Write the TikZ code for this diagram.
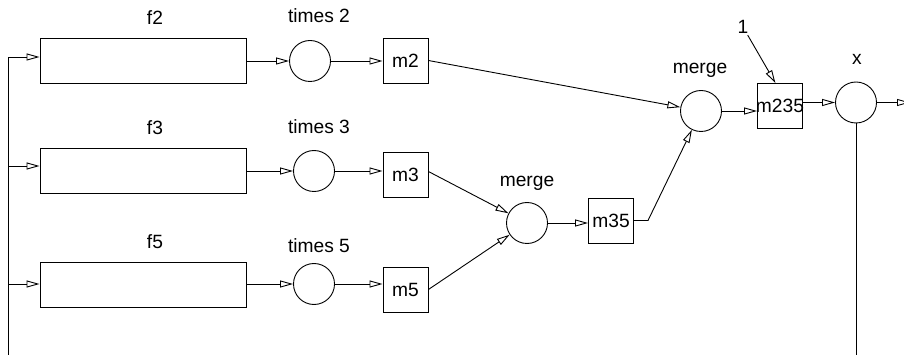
\documentclass[tikz,border=0pt]{standalone}
\usepackage{fontspec}
\setmainfont{Liberation Sans}
\usetikzlibrary{arrows.meta,calc}
\begin{document}
\begin{tikzpicture}[x=1pt,y=-1pt,line width=0.9pt,
 every node/.style={font=\fontsize{19.2}{22}\selectfont},
 blk/.style={draw,inner sep=0pt,minimum width=206pt,minimum height=45pt},
 sq/.style={draw,inner sep=0pt,minimum size=45pt},
 circ/.style={draw,circle,inner sep=0pt,minimum size=41pt},
 lbl/.style={anchor=base,inner sep=0pt},
 arr/.style={-{Triangle[open,length=13pt,width=7pt]}}]
\useasboundingbox (0,0) rectangle (904,355);
% blocks
\node[blk] (f2) at (143,60.5) {};
\node[blk] (f3) at (143,170.5) {};
\node[blk] (f5) at (143,284.5) {};
\node[lbl] (lf2) at (155,25) {f2};
\node[lbl] (lf3) at (155,135) {f3};
\node[lbl] (lf5) at (155,248) {f5};
% times circles
\node[circ] (t2) at (310,61) {};
\node[circ] (t3) at (314,171) {};
\node[circ] (t5) at (314,284) {};
\node[lbl] (lt2) at (319,23) {times 2};
\node[lbl] (lt3) at (319,134) {times 3};
\node[lbl] (lt5) at (319,252) {times 5};
% squares
\node[sq] (m2) at (405.5,60.5) {m2};
\node[sq] (m3) at (405.5,174.5) {m3};
\node[sq] (m5) at (405.5,289.5) {m5};
\node[sq] (m35) at (611,220.5) {m35};
\node[sq] (m235) at (780,106) {\makebox[0pt]{m235}};
% merges
\node[circ] (mg1) at (527,223) {};
\node[circ] (mg2) at (701,111) {};
\node[lbl] (lmg1) at (527,187) {merge};
\node[lbl] (lmg2) at (700,74) {merge};
\node[circ] (xc) at (856,102.5) {};
\node[lbl] (lx) at (857,65) {x};
\node[inner sep=1pt] (l1) at (743,27) {1};
% feedback line
\coordinate (bot) at (8,360);
\coordinate (top) at (8,57);
\coordinate (j3) at (8,166);
\coordinate (j5) at (8,284);
\draw (bot) -- (top);
\draw[arr] (top) -- (top -| f2.west);
\draw[arr] (j3) -- (j3 -| f3.west);
\draw[arr] (j5) -- (j5 -| f5.west);
% f -> times
\draw[arr] (t2.west -| f2.east) -- (t2.west);
\draw[arr] (t3.west -| f3.east) -- (t3.west);
\draw[arr] (t5.west -| f5.east) -- (t5.west);
% times -> m
\draw[arr] (t2.east) -- (t2.east -| m2.west);
\draw[arr] (t3.east) -- (t3.east -| m3.west);
\draw[arr] (t5.east) -- (t5.east -| m5.west);
% to merges
\draw[arr] (m2.east) -- (mg2);
\draw[arr] ($(m3.east)+(0,-3)$) -- (mg1);
\draw[arr] (m5.east) -- (mg1);
\draw[arr] (mg1.east) -- (mg1.east -| m35.west);
\coordinate (k) at (648,220.5);
\draw[arr] (m35.east) -- (k) -- (mg2);
\draw[arr] (mg2.east) -- (mg2.east -| m235.west);
\coordinate (m235t) at ($(m235.north west)!0.4!(m235.north east)$);
\draw[arr] (l1) -- (m235t);
\draw[arr] (xc.west -| m235.east) -- (xc.west);
\coordinate (xo) at (910,102.5);
\draw[arr] (xc.east) -- (xo);
\coordinate (xb) at (856,360);
\draw (xc.south) -- (xb);
\end{tikzpicture}
\end{document}
